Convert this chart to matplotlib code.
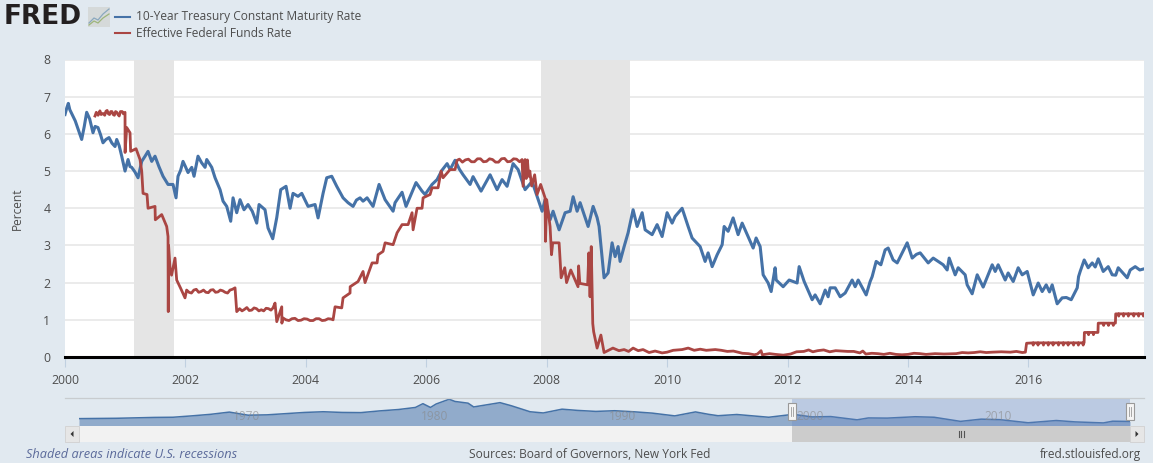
#!/usr/bin/env python3
# -*- coding: utf-8 -*-

import matplotlib
matplotlib.use('Agg')
import matplotlib.pyplot as plt
from matplotlib.patches import Rectangle, Polygon

plt.rcParams['font.family'] = ['Open Sans', 'DejaVu Sans']

W, H = 1153, 463
BG = '#E1E9F0'
BLUE = '#4572A7'
RED = '#AA4643'
TEXT = '#4D4D4D'

# decimal years, percent
treasury_years = [
    2000.00, 2000.03, 2000.055, 2000.08, 2000.13, 2000.17, 2000.22, 2000.277, 2000.32, 2000.36, 2000.41, 2000.465,
    2000.50, 2000.548, 2000.59, 2000.631, 2000.68, 2000.731, 2000.78, 2000.831, 2000.859, 2000.90, 2000.942, 2000.997,
    2001.047, 2001.08, 2001.108, 2001.16, 2001.213, 2001.274, 2001.33, 2001.379, 2001.44, 2001.495, 2001.56, 2001.628,
    2001.711, 2001.794, 2001.844, 2001.877, 2001.92, 2001.96, 2002.00, 2002.043, 2002.105, 2002.143, 2002.209,
    2002.27, 2002.326, 2002.354, 2002.437, 2002.492, 2002.575, 2002.625, 2002.686, 2002.752, 2002.791, 2002.852,
    2002.907, 2002.973, 2003.04, 2003.11, 2003.184, 2003.223, 2003.322, 2003.372, 2003.45, 2003.517, 2003.583,
    2003.671, 2003.738, 2003.787, 2003.87, 2003.932, 2004.037, 2004.153, 2004.203, 2004.286, 2004.347, 2004.43,
    2004.513, 2004.618, 2004.70, 2004.784, 2004.84, 2004.90, 2004.95, 2005.017, 2005.116, 2005.216, 2005.316,
    2005.38, 2005.449, 2005.482, 2005.598, 2005.664, 2005.75, 2005.83, 2005.93, 2005.98, 2006.096, 2006.179,
    2006.26, 2006.346, 2006.395, 2006.478, 2006.55, 2006.611, 2006.728, 2006.777, 2006.91, 2007.06, 2007.176,
    2007.259, 2007.342, 2007.442, 2007.525, 2007.641, 2007.757, 2007.924, 2007.973, 2008.056, 2008.106, 2008.206,
    2008.306, 2008.389, 2008.439, 2008.505, 2008.555, 2008.688, 2008.771, 2008.837, 2008.87, 2008.953, 2009.02,
    2009.086, 2009.136, 2009.186, 2009.219, 2009.286, 2009.352, 2009.435, 2009.502, 2009.585, 2009.635, 2009.751,
    2009.834, 2009.917, 2010.00, 2010.083, 2010.133, 2010.249, 2010.349, 2010.415, 2010.548, 2010.631, 2010.681,
    2010.748, 2010.831, 2010.914, 2010.947, 2011.013, 2011.096, 2011.179, 2011.246, 2011.379, 2011.429, 2011.478,
    2011.545, 2011.595, 2011.678, 2011.728, 2011.794, 2011.811, 2011.927, 2012.027, 2012.159, 2012.193, 2012.276,
    2012.409, 2012.458, 2012.542, 2012.625, 2012.674, 2012.708, 2012.791, 2012.874, 2012.957, 2013.073, 2013.123,
    2013.173, 2013.306, 2013.372, 2013.405, 2013.472, 2013.55, 2013.621, 2013.671, 2013.754, 2013.821, 2013.904,
    2013.987, 2014.07, 2014.14, 2014.203, 2014.336, 2014.419, 2014.585, 2014.651, 2014.684, 2014.784, 2014.834,
    2014.95, 2014.983, 2015.066, 2015.15, 2015.249, 2015.399, 2015.449, 2015.498, 2015.615, 2015.664, 2015.748,
    2015.831, 2015.897, 2015.98, 2016.08, 2016.163, 2016.229, 2016.296, 2016.35, 2016.395, 2016.478, 2016.561,
    2016.63, 2016.711, 2016.811, 2016.833, 2016.86, 2016.927, 2016.993, 2017.06, 2017.11, 2017.16, 2017.243,
    2017.326, 2017.392, 2017.45, 2017.492, 2017.641, 2017.691, 2017.774, 2017.85, 2017.92,
]
treasury_rates = [
    6.52, 6.70, 6.82, 6.65, 6.48, 6.35, 6.12, 5.85, 6.20, 6.58, 6.40, 6.03,
    6.20, 6.17, 5.98, 5.76, 5.85, 5.90, 5.75, 5.66, 5.85, 5.68, 5.40, 5.00,
    5.31, 5.12, 5.10, 4.98, 4.82, 5.26, 5.40, 5.53, 5.26, 5.40, 5.12, 4.86,
    4.64, 4.64, 4.28, 4.86, 5.02, 5.26, 5.12, 4.96, 5.10, 4.86, 5.40,
    5.22, 5.10, 5.31, 5.10, 4.82, 4.50, 4.19, 4.05, 3.65, 4.28, 3.88,
    4.23, 3.96, 4.10, 3.92, 3.60, 4.10, 3.96, 3.47, 3.18, 3.75, 4.50,
    4.59, 4.00, 4.40, 4.32, 4.40, 4.05, 4.10, 3.74, 4.40, 4.82, 4.86,
    4.59, 4.28, 4.15, 4.05, 4.22, 4.28, 4.19, 4.28, 4.05, 4.64, 4.23,
    4.08, 3.92, 4.15, 4.43, 4.05, 4.38, 4.69, 4.46, 4.37, 4.64, 4.77,
    5.02, 5.20, 5.04, 5.29, 5.05, 4.90, 4.64, 4.85, 4.46, 4.90, 4.50,
    4.77, 4.59, 5.20, 5.04, 4.50, 4.72, 3.92, 4.23, 3.69, 3.92, 3.42,
    3.88, 3.92, 4.31, 3.92, 4.15, 3.51, 4.05, 3.75, 3.51, 2.13, 2.26,
    3.07, 2.70, 2.97, 2.57, 2.97, 3.34, 3.96, 3.51, 3.88, 3.42, 3.29,
    3.56, 3.24, 3.88, 3.60, 3.78, 4.00, 3.51, 3.20, 2.97, 2.57, 2.80,
    2.43, 2.75, 3.02, 3.51, 3.38, 3.74, 3.29, 3.60, 3.11, 2.93, 3.20,
    2.97, 2.21, 1.99, 1.76, 2.40, 2.07, 1.89, 2.07, 1.99, 2.43, 2.03,
    1.54, 1.67, 1.43, 1.80, 1.62, 1.86, 1.86, 1.62, 1.72, 2.07, 1.89,
    2.07, 1.67, 2.03, 2.16, 2.57, 2.48, 2.88, 2.93, 2.61, 2.53, 2.80,
    3.07, 2.66, 2.76, 2.80, 2.53, 2.66, 2.48, 2.34, 2.66, 2.21, 2.40,
    2.21, 1.94, 1.70, 2.21, 1.88, 2.48, 2.30, 2.48, 2.07, 2.26, 2.03,
    2.40, 2.21, 2.30, 1.67, 1.99, 1.76, 1.94, 1.75, 1.94, 1.43, 1.59,
    1.60, 1.54, 1.86, 2.16, 2.30, 2.61, 2.40, 2.53, 2.42, 2.64, 2.30,
    2.43, 2.21, 2.20, 2.40, 2.13, 2.34, 2.43, 2.34, 2.37,
]

funds_years = [
    2000.498, 2000.52, 2000.55, 2000.58, 2000.60, 2000.631, 2000.66, 2000.68, 2000.70, 2000.72, 2000.74, 2000.76,
    2000.78, 2000.80, 2000.82, 2000.84, 2000.86, 2000.88, 2000.90, 2000.92, 2000.95, 2000.97,
    2000.997, 2000.998, 2001.025, 2001.08, 2001.09, 2001.18, 2001.246, 2001.274, 2001.296, 2001.362, 2001.379, 2001.495,
    2001.50, 2001.606, 2001.689, 2001.711, 2001.715, 2001.72, 2001.744, 2001.77, 2001.827, 2001.855, 2001.92, 2001.993,
    2002.02, 2002.06, 2002.10, 2002.14, 2002.18, 2002.22, 2002.26, 2002.30, 2002.34, 2002.38, 2002.42, 2002.46,
    2002.50, 2002.54, 2002.58, 2002.62, 2002.66, 2002.70, 2002.74, 2002.78, 2002.824, 2002.852,
    2002.90, 2002.94, 2002.98, 2003.02, 2003.06, 2003.10, 2003.14, 2003.18, 2003.22, 2003.26, 2003.30, 2003.34, 2003.38,
    2003.42, 2003.455, 2003.488, 2003.517, 2003.60, 2003.602, 2003.62,
    2003.67, 2003.72, 2003.77, 2003.82, 2003.87, 2003.92, 2003.97, 2004.02, 2004.07, 2004.12, 2004.17, 2004.22, 2004.27,
    2004.32, 2004.37, 2004.42, 2004.452, 2004.485, 2004.596, 2004.618, 2004.734,
    2004.736, 2004.867, 2004.95, 2004.983, 2005.10, 2005.183, 2005.20, 2005.282, 2005.316, 2005.449, 2005.515, 2005.598,
    2005.698, 2005.764, 2005.781, 2005.847, 2005.93, 2005.947, 2006.063, 2006.096, 2006.196, 2006.246, 2006.279, 2006.395,
    2006.478, 2006.512, 2006.55, 2006.60, 2006.65, 2006.70, 2006.75, 2006.80, 2006.85, 2006.90, 2006.95, 2007.00, 2007.05,
    2007.10, 2007.15, 2007.20, 2007.25, 2007.30, 2007.35, 2007.40, 2007.45, 2007.50, 2007.55, 2007.591,
    2007.608, 2007.641, 2007.66, 2007.68, 2007.70, 2007.72, 2007.75, 2007.80, 2007.84, 2007.90, 2007.973, 2007.98, 2008.00,
    2008.056, 2008.08, 2008.10, 2008.206, 2008.24, 2008.30, 2008.33, 2008.40, 2008.52, 2008.53, 2008.55, 2008.68, 2008.70,
    2008.72, 2008.74, 2008.76, 2008.765, 2008.78, 2008.837, 2008.90, 2008.953, 2009.10, 2009.20, 2009.286, 2009.36,
    2009.435, 2009.52, 2009.60, 2009.70, 2009.80, 2009.917, 2010.00, 2010.10, 2010.25, 2010.35, 2010.45, 2010.55,
    2010.65, 2010.80, 2010.90, 2011.00, 2011.10, 2011.25, 2011.35, 2011.45, 2011.50, 2011.56, 2011.58, 2011.70,
    2011.80, 2011.93, 2012.05, 2012.15, 2012.27, 2012.35, 2012.42, 2012.50, 2012.60, 2012.70, 2012.80, 2012.90,
    2013.00, 2013.10, 2013.20, 2013.25, 2013.30, 2013.40, 2013.50, 2013.60, 2013.70, 2013.80, 2013.90, 2014.00,
    2014.10, 2014.20, 2014.30, 2014.45, 2014.60, 2014.80, 2014.90, 2015.00, 2015.10, 2015.20, 2015.30, 2015.40,
    2015.55, 2015.70, 2015.80, 2015.90, 2015.95, 2015.97,
    2016.076, 2016.08, 2016.084, 2016.156, 2016.16, 2016.164, 2016.246, 2016.25, 2016.254, 2016.326, 2016.33, 2016.334,
    2016.406, 2016.41, 2016.414, 2016.496, 2016.50, 2016.504, 2016.576, 2016.58, 2016.584, 2016.656, 2016.66, 2016.664,
    2016.746, 2016.75, 2016.754, 2016.826, 2016.83, 2016.834, 2016.906, 2016.91, 2016.914, 2016.925, 2016.93,
    2016.996, 2017.00, 2017.004, 2017.076, 2017.08, 2017.084, 2017.155, 2017.16,
    2017.246, 2017.25, 2017.254, 2017.326, 2017.33, 2017.334, 2017.406, 2017.41, 2017.414, 2017.445, 2017.45,
    2017.496, 2017.50, 2017.504, 2017.576, 2017.58, 2017.584, 2017.656, 2017.66, 2017.664, 2017.746, 2017.75, 2017.754,
    2017.826, 2017.83, 2017.834, 2017.906, 2017.91, 2017.914, 2017.92,
]
funds_rates = [
    6.48, 6.58, 6.50, 6.62, 6.52, 6.55, 6.50, 6.61, 6.63, 6.54, 6.52, 6.60,
    6.60, 6.52, 6.50, 6.60, 6.58, 6.52, 6.48, 6.60, 6.60, 6.54,
    6.58, 5.50, 6.17, 6.03, 5.53, 5.60, 5.31, 5.00, 4.40, 4.37, 4.00, 4.05,
    3.69, 3.83, 3.51, 3.24, 1.22, 3.00, 2.40, 2.20, 2.66, 2.07, 1.85, 1.59,
    1.80, 1.74, 1.72, 1.80, 1.82, 1.74, 1.76, 1.80, 1.74, 1.73, 1.80, 1.81,
    1.74, 1.75, 1.80, 1.78, 1.74, 1.72, 1.80, 1.82, 1.86, 1.22,
    1.30, 1.24, 1.28, 1.33, 1.25, 1.26, 1.32, 1.30, 1.24, 1.27, 1.24, 1.31, 1.30,
    1.26, 1.32, 1.45, 0.95, 1.35, 0.91, 1.05,
    1.00, 0.98, 1.03, 1.04, 0.98, 0.99, 1.03, 1.02, 0.98, 0.98, 1.03, 1.03, 0.98,
    0.99, 1.03, 1.02, 1.00, 1.35, 1.32, 1.59, 1.72,
    1.89, 2.03, 2.30, 2.00, 2.53, 2.53, 2.75, 2.84, 3.07, 3.02, 3.34, 3.56,
    3.56, 3.88, 3.42, 4.00, 4.00, 4.28, 4.37, 4.55, 4.55, 5.00, 4.82, 5.04,
    5.04, 5.29, 5.32, 5.24, 5.30, 5.32, 5.25, 5.25, 5.33, 5.33, 5.25, 5.26, 5.33,
    5.31, 5.24, 5.24, 5.33, 5.34, 5.25, 5.26, 5.33, 5.32, 5.25, 5.31,
    4.59, 5.31, 4.80, 5.30, 4.86, 5.00, 4.60, 4.90, 4.37, 4.64, 4.28, 3.11, 4.23,
    3.51, 2.75, 3.07, 3.07, 2.13, 2.40, 2.00, 2.34, 1.89, 2.45, 1.98, 1.94, 2.80,
    1.62, 2.97, 1.35, 0.90, 0.68, 0.24, 0.59, 0.12, 0.24, 0.17, 0.20, 0.15,
    0.24, 0.17, 0.20, 0.12, 0.16, 0.11, 0.13, 0.18, 0.20, 0.24, 0.18, 0.21,
    0.18, 0.20, 0.18, 0.15, 0.16, 0.10, 0.09, 0.06, 0.08, 0.17, 0.06, 0.09,
    0.07, 0.05, 0.08, 0.14, 0.15, 0.19, 0.14, 0.17, 0.19, 0.14, 0.17, 0.16,
    0.15, 0.15, 0.11, 0.16, 0.08, 0.10, 0.09, 0.07, 0.10, 0.07, 0.06, 0.07,
    0.10, 0.09, 0.07, 0.09, 0.08, 0.09, 0.12, 0.11, 0.12, 0.14, 0.12, 0.13,
    0.14, 0.13, 0.15, 0.12, 0.13, 0.37,
    0.38, 0.32, 0.38, 0.38, 0.32, 0.38, 0.38, 0.32, 0.38, 0.38, 0.32, 0.38,
    0.38, 0.32, 0.38, 0.38, 0.32, 0.38, 0.38, 0.32, 0.38, 0.38, 0.32, 0.38,
    0.38, 0.32, 0.38, 0.38, 0.32, 0.38, 0.38, 0.32, 0.38, 0.38, 0.66,
    0.66, 0.60, 0.66, 0.66, 0.60, 0.66, 0.66, 0.91,
    0.91, 0.85, 0.91, 0.91, 0.85, 0.91, 0.91, 0.85, 0.91, 0.91, 1.16,
    1.16, 1.10, 1.16, 1.16, 1.10, 1.16, 1.16, 1.10, 1.16, 1.16, 1.10, 1.16,
    1.16, 1.10, 1.16, 1.16, 1.10, 1.16, 1.16,
]

recession_starts = [2001.146, 2007.91]
recession_ends = [2001.81, 2009.39]

year_ticks = list(range(2000, 2018, 2))
percent_ticks = list(range(0, 9))

nav_years = [
    1962, 1964, 1966, 1967, 1968, 1969, 1970, 1971, 1972, 1973, 1974, 1975, 1976, 1977, 1978, 1979, 1979.9, 1980.3,
    1980.7, 1981.0, 1981.7, 1982.0, 1982.7, 1983.0, 1984.4, 1985.0, 1986.0, 1986.7, 1987.7, 1988.5, 1989.5, 1990.5,
    1991.5, 1992.5, 1993.7, 1994.8, 1995.5, 1996.0, 1997.0, 1998.7, 2000.0, 2001.0, 2002.0, 2003.4, 2004.0, 2005.0,
    2006.5, 2007.5, 2008.9, 2010.0, 2011.0, 2012.5, 2014.0, 2015.0, 2016.5, 2017.0, 2017.92,
]
nav_rates = [
    4.0, 4.2, 4.7, 4.8, 5.6, 6.5, 7.8, 6.0, 6.2, 6.9, 7.6, 8.0, 7.6, 7.5, 8.5, 9.3, 10.5, 12.7,
    10.5, 12.5, 15.3, 14.0, 13.0, 10.8, 13.3, 11.5, 8.0, 7.3, 9.5, 8.8, 8.2, 8.6,
    8.0, 7.2, 5.6, 7.9, 6.5, 5.7, 6.4, 4.8, 6.5, 5.0, 5.2, 3.3, 4.4, 4.3,
    5.1, 4.8, 2.4, 3.7, 3.4, 1.6, 2.9, 2.1, 1.5, 2.5, 2.37,
]
nav_labels = [1970, 1980, 1990, 2000, 2010]

fig = plt.figure(figsize=(W / 100, H / 100), dpi=100, facecolor=BG)


def px_axes(left, top, right, bottom):
    return fig.add_axes([left / W, 1 - bottom / H, (right - left) / W, (bottom - top) / H])


# main chart
ax = px_axes(65, 59.5, 1144, 357)
ax.set_facecolor('white')
ax.set_xlim(2000, 2017.92)
ax.set_ylim(0, 8)
for s, e in zip(recession_starts, recession_ends):
    ax.axvspan(s, e, color='#E5E5E5', lw=0, zorder=1)
ax.set_yticks(percent_ticks)
ax.grid(True, axis='y', color='#E6E6E6', lw=1.1, zorder=2)
ax.plot(treasury_years, treasury_rates, color=BLUE, lw=2.2, zorder=3, solid_joinstyle='round')
ax.plot(funds_years, funds_rates, color=RED, lw=2.0, zorder=4, solid_joinstyle='round')
for side in ['top', 'left', 'right']:
    ax.spines[side].set_visible(False)
ax.spines['bottom'].set_color('black')
ax.spines['bottom'].set_linewidth(2.2)
ax.spines['bottom'].set_zorder(6)
ax.set_xticks(year_ticks)
ax.tick_params(axis='x', length=7, width=0.8, color='#C0D0E0', labelsize=8.8, labelcolor=TEXT, pad=5)
ax.tick_params(axis='y', length=0, labelsize=8.8, labelcolor=TEXT, pad=10.5)
ax.set_ylabel('Percent', fontsize=8.6, color=TEXT)
ax.yaxis.set_label_coords((24 - 65) / (1144 - 65), 0.5)

# navigator series
nav = px_axes(79, 398, 1130, 425.5)
nav.patch.set_alpha(0)
nav.set_xlim(1962, 2017.92)
nav.set_ylim(0, 16)
nav.fill_between(nav_years, nav_rates, 0, color='#91ABCB', lw=0, zorder=1)
nav.plot(nav_years, nav_rates, color=BLUE, lw=1.1, zorder=2)
nav.axis('off')

# overlay in pixel coordinates for the page furniture
page = fig.add_axes([0, 0, 1, 1])
page.set_xlim(0, W)
page.set_ylim(H, 0)
page.axis('off')
page.patch.set_alpha(0)

# logo
page.text(4, 17.5, 'FRED', fontsize=19, fontweight='bold', family='DejaVu Sans', color='#231F20',
          va='center', ha='left')
page.add_patch(Rectangle((88, 7), 22, 20, fc='#D5D9D9', ec='none'))
page.plot([89, 94, 98, 103, 109], [23, 18, 20, 14, 9], color='#8AA8BE', lw=0.9)
page.plot([89, 94, 98, 103, 109], [25, 21, 23, 18, 14], color='#9DB57B', lw=0.9)

# legend
page.plot([115, 130], [16.5, 16.5], color=BLUE, lw=1.5)
page.plot([115, 130], [33, 33], color=RED, lw=1.5)
page.text(136, 16.5, '10-Year Treasury Constant Maturity Rate', fontsize=8.6, color=TEXT, va='center')
page.text(136, 33.5, 'Effective Federal Funds Rate', fontsize=8.6, color=TEXT, va='center')

# navigator furniture
page.plot([65, 1144], [398, 398], color='#C8CCCF', lw=0.9)
page.add_patch(Rectangle((792, 398), 338, 27.5, fc='#6685C2', alpha=0.3, ec='none'))
for year in nav_labels:
    page.text(792 + (year - 2000) * 18.78 + 18, 416.5, str(year), fontsize=8.6, color='#888888',
              alpha=0.6, ha='center', va='center')
page.add_patch(Rectangle((65, 426), 1079, 16, fc='#F2F2F2', ec='none'))
page.add_patch(Rectangle((792, 426), 338, 16, fc='#CCCCCC', ec='none'))
for left in [65, 1130]:
    page.add_patch(Rectangle((left, 426), 14, 16, fc='#E6E6E6', ec='#D0D0D0', lw=0.6))
page.add_patch(Polygon([[73.5, 431], [73.5, 437], [70.5, 434]], fc='#333333', ec='none'))
page.add_patch(Polygon([[1135.5, 431], [1135.5, 437], [1138.5, 434]], fc='#333333', ec='none'))
for gx in [958.5, 961, 963.5]:
    page.plot([gx, gx], [430.5, 437], color='#555555', lw=0.8)
for hx in [792, 1129.5]:
    page.add_patch(Rectangle((hx - 4, 403), 8, 17, fc='#F5F5F5', ec='#999999', lw=0.8, zorder=5))
    page.plot([hx - 1, hx - 1], [407, 416], color='#999999', lw=0.6, zorder=6)
    page.plot([hx + 1, hx + 1], [407, 416], color='#999999', lw=0.6, zorder=6)

# footer
page.text(26, 454.5, 'Shaded areas indicate U.S. recessions', fontsize=9.2, style='italic', color='#5B6A9A', va='center')
page.text(469, 454.5, 'Sources: Board of Governors, New York Fed', fontsize=8.6, color=TEXT, va='center')
page.text(1141, 454.5, 'fred.stlouisfed.org', fontsize=8.6, color=TEXT, va='center', ha='right')

fig.savefig('out.png', dpi=100, facecolor=BG)
